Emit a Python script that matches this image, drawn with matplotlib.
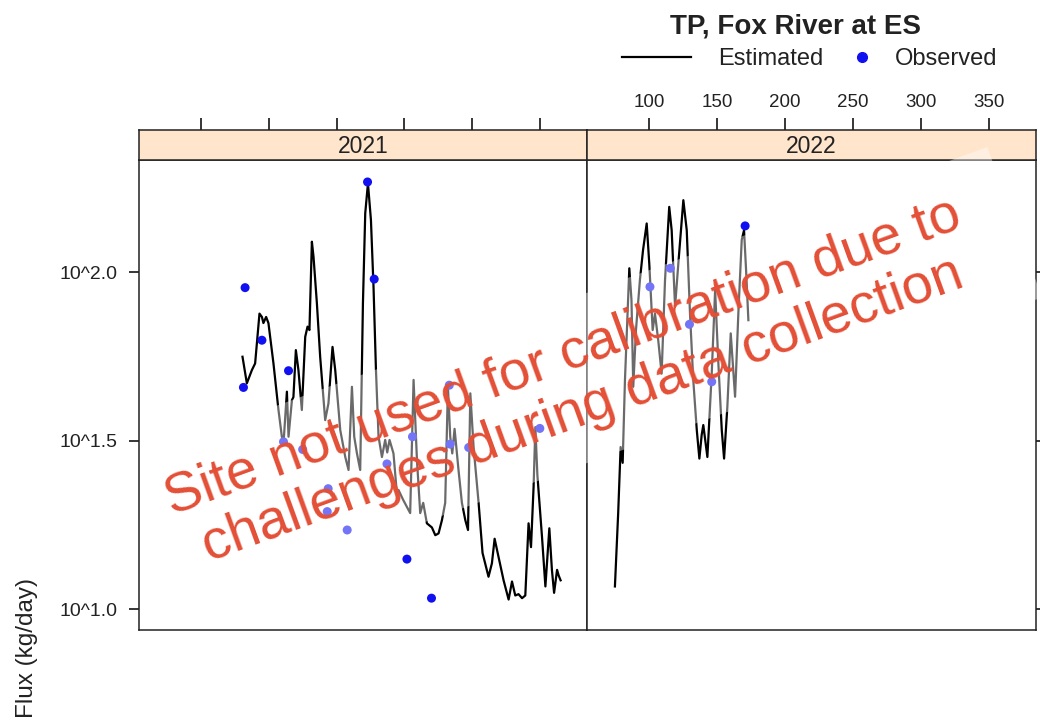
import matplotlib.pyplot as plt
from matplotlib.lines import Line2D
from matplotlib.patches import Rectangle
from matplotlib.transforms import Affine2D

plt.rcParams['font.family'] = ['Liberation Sans', 'DejaVu Sans']

# Estimated daily flux (kg/day) by day of year
est_2021_day = [130.7, 133.9, 137.6, 140.0, 143.2, 145.0, 146.1, 148.1, 149.8, 153.5,
                157.2, 159.7, 161.0, 163.4, 164.6, 167.1, 168.2, 170.0, 171.9, 174.4,
                176.9, 178.6, 180.0, 181.8, 183.0, 185.5, 187.9, 191.6, 194.0, 197.0,
                199.0, 202.7, 206.4, 208.8, 211.3, 213.0, 215.0, 217.4, 219.4, 221.1,
                223.1, 225.3, 227.2, 229.0, 230.9, 233.4, 235.8, 237.3, 239.0, 241.9,
                244.4, 245.6, 249.1, 254.2, 256.7, 259.2, 261.6, 263.8, 266.5, 270.2,
                272.7, 275.1, 277.6, 280.0, 282.0, 283.7, 285.2, 286.9, 289.8, 292.3,
                294.8, 296.8, 298.5, 300.9, 304.6, 307.5, 311.9, 314.4, 316.4, 319.3,
                323.0, 326.7, 329.2, 331.6, 334.0, 336.6, 339.0, 341.4, 343.2, 345.1,
                346.4, 347.9, 351.3, 353.8, 356.7, 358.6, 360.2, 362.4, 363.6, 365.0]
est_2021_flux = [56.1, 46.8, 51.2, 53.6, 75.3, 73.6, 70.6, 73.6, 70.6, 53.6,
                 39.0, 32.5, 31.5, 44.2, 32.5, 41.7, 42.6, 58.7, 51.2, 39.0,
                 64.3, 68.9, 67.3, 123.0, 111.0, 80.7, 56.1, 36.4, 40.8, 60.0,
                 51.2, 34.0, 28.3, 25.9, 45.7, 32.5, 29.0, 25.9, 80.7, 149.3,
                 183.2, 142.6, 90.4, 51.2, 32.5, 28.3, 31.8, 29.2, 31.8, 29.0,
                 22.1, 22.6, 21.1, 19.3, 47.9, 27.7, 19.3, 20.7, 18.0, 17.5,
                 16.6, 16.8, 18.4, 20.7, 45.7, 32.5, 29.0, 34.3, 25.9, 20.7,
                 18.4, 17.2, 43.7, 30.3, 20.7, 14.7, 12.5, 13.7, 16.2, 14.3,
                 12.2, 10.7, 12.1, 11.0, 11.1, 10.8, 11.0, 18.0, 15.3, 23.1,
                 34.7, 25.0, 16.4, 11.7, 17.4, 13.1, 11.2, 13.1, 12.6, 12.2]

est_2022_day = [74.7, 77.1, 78.9, 80.4, 82.1, 85.3, 86.9, 88.2, 90.2, 93.1,
                95.4, 98.1, 100.0, 102.5, 104.2, 106.6, 109.1, 111.6, 114.7, 116.5,
                119.0, 121.4, 125.1, 127.6, 130.0, 132.4, 135.0, 136.9, 138.6, 139.8,
                142.8, 146.0, 148.5, 150.9, 153.4, 155.1, 157.5, 160.0, 163.2, 165.6,
                168.1, 169.8, 171.3, 173.0]
est_2022_flux = [11.7, 19.3, 30.3, 27.2, 47.9, 102.6, 82.6, 45.7, 67.3, 94.6,
                 116.1, 139.3, 105.9, 67.3, 75.3, 62.8, 50.0, 94.6, 156.0, 133.0,
                 78.9, 105.9, 163.3, 133.0, 75.3, 47.9, 34.0, 28.0, 32.9, 35.2,
                 28.3, 50.0, 88.3, 53.6, 34.0, 28.0, 39.8, 65.8, 42.7, 75.3,
                 124.5, 133.0, 101.4, 72.0]

# Observed flux samples
obs_2021_day = [131.4, 132.6, 145.0, 164.6, 160.9, 175.0, 193.8, 193.1, 207.8, 222.8,
                227.7, 237.1, 251.8, 255.9, 269.9, 283.0, 283.7, 297.3, 349.7]
obs_2021_flux = [45.5, 89.9, 62.8, 51.0, 31.4, 29.8, 22.8, 19.5, 17.2, 184.9,
                 95.3, 27.0, 14.1, 32.5, 10.8, 46.2, 30.9, 30.2, 34.4]
obs_2022_day = [100.5, 115.5, 129.6, 146.0, 170.6]
obs_2022_flux = [90.4, 102.6, 70.0, 47.3, 137.0]

years = ['2021', '2022']
x_ticks = [100, 150, 200, 250, 300, 350]
y_ticks = [10.0, 31.623, 100.0]
y_tick_labels = ['10^1.0', '10^1.5', '10^2.0']

fig = plt.figure(figsize=(10.4, 7.25), dpi=100)

lefts = [0.1337, 0.5649]
width = 0.4308
bottom = 0.131
height = 0.6483
strip_h = 0.0414

series = [(est_2021_day, est_2021_flux, obs_2021_day, obs_2021_flux),
          (est_2022_day, est_2022_flux, obs_2022_day, obs_2022_flux)]

for i, (ed, ef, od, of) in enumerate(series):
    ax = fig.add_axes([lefts[i], bottom, width, height])
    ax.plot(ed, ef, color='black', lw=1.6)
    ax.scatter(od, of, s=42, color='#1010f0', edgecolors='none', zorder=3)
    ax.set_yscale('log')
    ax.set_xlim(54.5, 384.5)
    ax.set_ylim(8.69, 214.8)
    ax.set_yticks(y_ticks)
    ax.minorticks_off()
    ax.set_xticks(x_ticks)
    ax.tick_params(axis='x', bottom=False, labelbottom=False)
    if i == 0:
        ax.set_yticklabels(y_tick_labels)
        ax.tick_params(axis='y', left=True, right=False, labelleft=True,
                       length=7.5, width=1.1, pad=8, labelsize=14, labelcolor='#222222')
    else:
        ax.tick_params(axis='y', left=False, right=True, labelleft=False,
                       length=7.5, width=1.1)
    for s in ax.spines.values():
        s.set_linewidth(1.1)
        s.set_color('#222222')

    # strip with year
    sax = fig.add_axes([lefts[i], bottom + height, width, strip_h], sharex=ax)
    sax.set_facecolor('#ffe5cc')
    sax.set_yticks([])
    sax.tick_params(axis='x', bottom=False, labelbottom=False, top=True,
                    labeltop=(i == 1), length=9, width=1.1, pad=5,
                    labelsize=13.5, labelcolor='#222222')
    sax.text(0.5, 0.45, years[i], transform=sax.transAxes, ha='center',
             va='center', fontsize=16.5, color='#222222')
    for s in sax.spines.values():
        s.set_linewidth(1.1)
        s.set_color('#222222')

# title and key
fig.text(795 / 1040, 1 - 33 / 725, 'TP, Fox River at ES', ha='center',
         va='baseline', fontsize=20, fontweight='bold', color='#222222')
fig.add_artist(Line2D([622 / 1040, 691 / 1040], [1 - 57 / 725, 1 - 57 / 725],
                      color='black', lw=1.6))
fig.text(718 / 1040, 1 - 65 / 725, 'Estimated', ha='left', va='baseline',
         fontsize=17, color='#222222')
fig.add_artist(Line2D([862 / 1040], [1 - 57 / 725], marker='o', ms=7,
                      color='#1010f0', lw=0))
fig.text(895 / 1040, 1 - 65 / 725, 'Observed', ha='left', va='baseline',
         fontsize=17, color='#222222')

fig.text(27 / 1040, 1 - 648 / 725, 'Flux (kg/day)', rotation=90, ha='center',
         va='center', fontsize=17.5, color='#222222')

# watermark note on a faded rotated band (pixel coordinates, figure at 100 dpi)
cx, cy = 573, 725 - 383
band = Rectangle((cx - 430, cy - 80), 900, 160, facecolor='white',
                 edgecolor='none', alpha=0.42, zorder=2)
band.set_transform(Affine2D().rotate_deg_around(cx, cy, 20))
fig.add_artist(band)
fig.text(573 / 1040, 1 - 384 / 725,
         'Site not used for calibration due to\nchallenges during data collection',
         rotation=20, rotation_mode='anchor', ha='center', va='center',
         multialignment='center', fontsize=40, color='#e34f36', linespacing=1.1,
         zorder=3)

fig.savefig('out.png', dpi=100)
